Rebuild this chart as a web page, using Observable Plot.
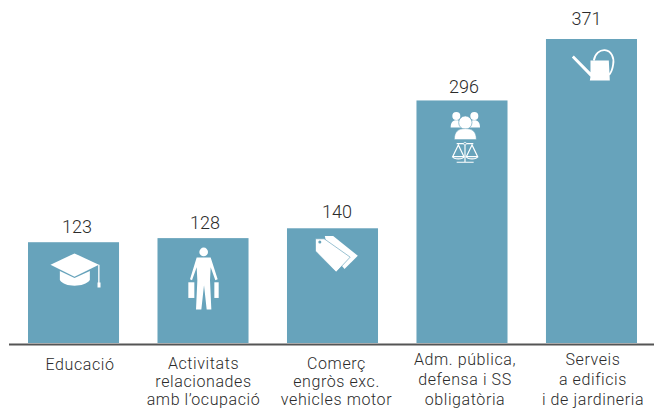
<!DOCTYPE html>
<html><head><meta charset="utf-8">
<script src="https://cdn.jsdelivr.net/npm/d3@7"></script>
<script src="https://cdn.jsdelivr.net/npm/@observablehq/plot@0.6"></script>
<style>html,body{margin:0;padding:0;background:#fff}svg{display:block}.lab text{letter-spacing:.6px}</style>
</head><body><div id="chart"></div>
<script>
const categories = ["Educació","Activitats\nrelacionades\namb l’ocupació","Comerç\nengròs exc.\nvehicles motor","Adm. pública,\ndefensa i SS\nobligatòria","Serveis\na edificis\ni de jardineria"];
const values = [123,128,140,296,371];
const barColor = "#67a3bb";

// label nudges, as drawn in the original
const valueDx = [3,1.5,4,1.5,-5.5];
const valueDy = [-15,-15,-17,-14,-20];
const labelDx = [6,0,3.5,2.5,1];
const labelDy = [12,12,12,7,7];
const labelLeading = [1.25,1.15,1.15,1.25,1.25];

const icons = [
// graduation cap
`<path d="M66,66L138,32L211,66L138,102Z"/><path d="M94,85L138,106L184,85V112C175,124 158,129 138,129C118,129 102,124 94,112Z"/><path d="M209,66H213V119H216V134H207V119H209Z"/>`,
// person with cases
`<circle cx="137" cy="40" r="13"/><path d="M116,57H158L179,122L172,125L158,86L156,125L160,213H146L138,140L130,213H114L118,125L116,86L102,125L96,122Z"/><rect x="91" y="131" width="18" height="47"/><rect x="169" y="131" width="13" height="47"/>`,
// price tags
`<path d="M112,22H137L211,81L171,121L120,60Z"/><path d="M84,30H110L188,85L146,130L84,67Z" stroke="${barColor}" stroke-width="2"/><circle cx="97" cy="40" r="4.5" fill="${barColor}"/>`,
// people and scales
`<circle cx="118" cy="45" r="12"/><circle cx="172" cy="45" r="12"/><path d="M101,80C101,64 107,58 118,58C130,58 136,64 136,80Z"/><path d="M154,80C154,64 160,58 172,58C183,58 189,64 189,80Z"/><circle cx="145" cy="65" r="20" stroke="${barColor}" stroke-width="2"/><path d="M112,116C112,92 124,83 145,83C166,83 178,92 178,116Z" stroke="${barColor}" stroke-width="1.5"/>
<g fill="none" stroke="#fff" stroke-width="3.5"><path d="M119,128H169M144,128V184M119,184H170"/><path d="M124,132L107,167H141Z"/><path d="M165,132L148,167H182Z"/><path d="M107,167C111,176 137,176 141,167"/><path d="M148,167C152,176 178,176 182,167"/></g><circle cx="144" cy="128" r="4" fill="${barColor}" stroke="#fff" stroke-width="2"/>`,
// watering can
`<path d="M76,54L82,48L132,98V63H187L190,123H130L132,112Z"/><path d="M142,63C145,42 160,31 175,32C195,34 204,55 200,75C198,90 193,100 188,106" fill="none" stroke="#fff" stroke-width="5.5"/>`
];
const iconSrc = s => "data:image/svg+xml," + encodeURIComponent(
  `<svg xmlns="http://www.w3.org/2000/svg" width="91" height="91" viewBox="0 0 273 273" fill="#fff">${s}</svg>`);

const rows = categories.map((c,i)=>({category:c,value:values[i],icon:iconSrc(icons[i])}));
const font = {fontFamily:"Roboto, sans-serif", fontWeight:300, fill:"#2b2b2b"};

const chart = Plot.plot({
  width:654, height:411,
  marginLeft:28, marginRight:17, marginTop:39, marginBottom:68,
  x:{domain:categories, axis:null, paddingInner:0.297, paddingOuter:0, round:false},
  y:{domain:[0,371], axis:null},
  marks:[
    Plot.barY(rows,{x:"category",y:"value",fill:barColor}),
    Plot.ruleY([0],{stroke:"#555",strokeWidth:2,dy:1,insetLeft:-19,insetRight:-17}),
    Plot.image(rows,{x:"category",y:"value",src:"icon",width:91,height:91,dy:45.5}),
    rows.map((r,i)=>Plot.text([r],{x:"category",y:"value",text:"value",dx:valueDx[i],dy:valueDy[i],fontSize:18,...font})),
    rows.map((r,i)=>Plot.text([r],{x:"category",y:0,text:"category",lineAnchor:"top",dx:labelDx[i],dy:labelDy[i],fontSize:16,lineHeight:labelLeading[i],className:"lab",...font}))
  ]
});
document.getElementById("chart").append(chart);
</script></body></html>
